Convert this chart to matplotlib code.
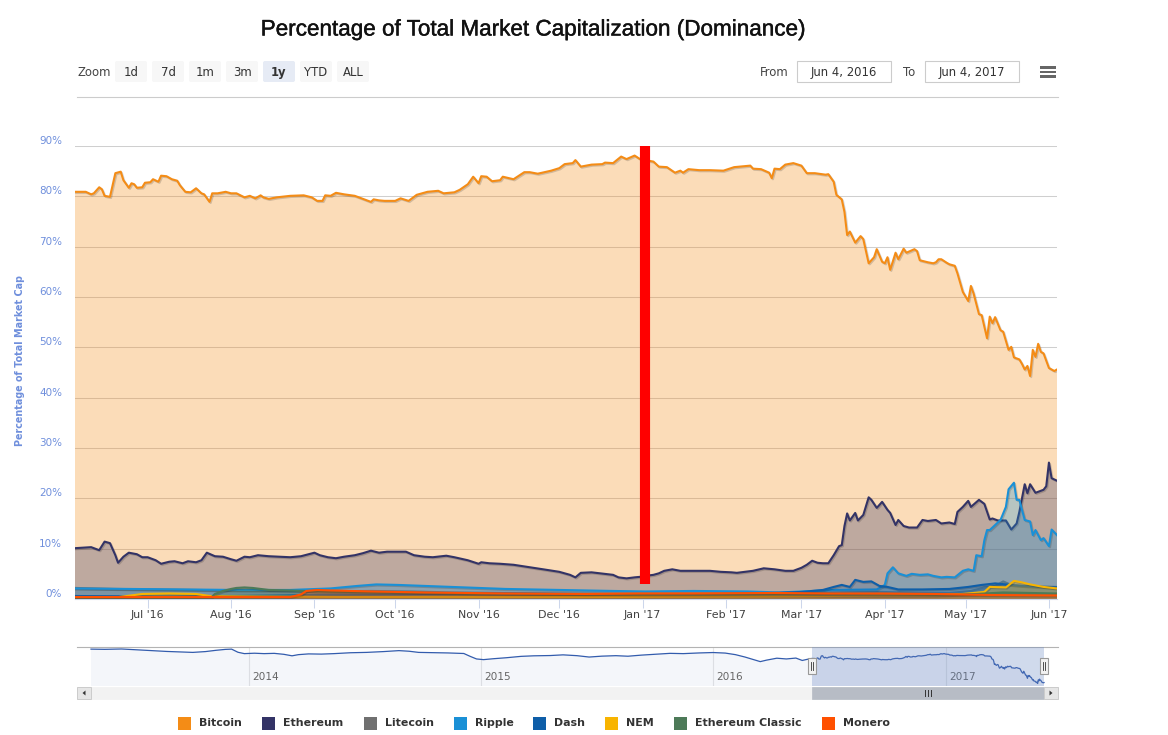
import numpy as np
import matplotlib
matplotlib.use("Agg")
import matplotlib.pyplot as plt
import matplotlib.dates as mdates
import matplotlib.transforms as mtransforms
import matplotlib.patheffects as pe
from matplotlib.patches import Rectangle, FancyBboxPatch, Polygon

# ---------------- data ----------------
TITLE = "Percentage of Total Market Capitalization (Dominance)"
Y_TITLE = "Percentage of Total Market Cap"
RANGE_START = "2016-06-04"
RANGE_END = "2017-06-04"
Y_TICKS = [0, 10, 20, 30, 40, 50, 60, 70, 80, 90]
ZOOM_BUTTONS = ["1d", "7d", "1m", "3m", "1y", "YTD", "ALL"]
ZOOM_SELECTED = "1y"
FROM_TEXT = "Jun 4, 2016"
TO_TEXT = "Jun 4, 2017"

SERIES_NAMES = ["Bitcoin", "Ethereum", "Litecoin", "Ripple", "Dash", "NEM",
                "Ethereum Classic", "Monero"]
SERIES_COLORS = ["#f48c16", "#333366", "#707070", "#1a90d6", "#0e5ea8",
                 "#f8b400", "#4d7a58", "#ff5000"]

# days since RANGE_START
BTC_DAYS = [0, 4, 6, 7, 9, 10, 11, 13, 15, 17, 18, 20, 21, 22, 23, 25, 26, 28, 29, 31,
            32, 34, 36, 38, 39, 41, 43, 45, 47, 48, 50, 51, 53, 56, 58, 60, 63, 65, 67, 69,
            70, 72, 75, 80, 85, 88, 90, 92, 93, 95, 97, 100, 104, 107, 110, 111, 113, 115, 119, 121,
            124, 127, 131, 135, 137, 141, 143, 146, 148, 150, 151, 153, 155, 158, 159, 163, 167, 169, 172, 177,
            180, 182, 185, 186, 188, 192, 196, 197, 200, 203, 205, 208, 210, 215, 217, 220, 223, 225, 226, 228,
            232, 236, 241, 245, 251, 252, 255, 258, 259, 260, 262, 264, 267, 270, 272, 275, 279, 280, 282, 283,
            285, 286, 287, 288, 290, 292, 293, 295, 297, 298, 300, 301, 302, 303, 305, 306, 308, 309, 312, 313,
            314, 317, 319, 320, 321, 322, 324, 325, 327, 328, 330, 332, 333, 334, 336, 337, 339, 340, 341, 342,
            344, 345, 347, 348, 349, 351, 352, 353, 354, 355, 356, 357, 358, 359, 360, 362, 364, 365]
BTC_VALS = [80.9, 80.9, 80.4, 80.6, 81.8, 81.4, 80.1, 79.9, 84.6, 84.9, 83.2, 81.7, 82.6, 82.4, 81.7, 81.8, 82.7, 82.8, 83.4, 82.9,
            84.1, 84.0, 83.4, 83.1, 82.2, 80.9, 80.8, 81.6, 80.6, 80.4, 78.9, 80.6, 80.6, 80.9, 80.6, 80.6, 79.8, 80.1, 79.6, 80.2,
            79.8, 79.5, 79.8, 80.1, 80.2, 79.8, 79.1, 79.1, 80.2, 80.1, 80.7, 80.4, 80.1, 79.5, 78.9, 79.4, 79.2, 79.1, 79.1, 79.6,
            79.1, 80.3, 80.9, 81.1, 80.6, 80.8, 81.3, 82.4, 83.9, 82.6, 84.0, 83.9, 83.0, 83.2, 83.9, 83.4, 84.8, 84.8, 84.5, 85.1,
            85.6, 86.4, 86.6, 87.2, 85.9, 86.3, 86.4, 86.7, 86.6, 87.9, 87.4, 88.1, 87.4, 86.9, 85.9, 85.8, 84.7, 85.1, 84.7, 85.4,
            85.2, 85.2, 85.1, 85.8, 86.1, 85.5, 85.4, 84.7, 83.6, 85.5, 85.4, 86.3, 86.6, 86.1, 84.6, 84.6, 84.3, 84.4, 82.9, 80.3,
            79.4, 76.9, 72.3, 73.0, 70.8, 72.1, 71.5, 66.7, 67.9, 69.5, 67.0, 66.7, 67.9, 65.4, 68.8, 67.5, 69.6, 68.8, 69.5, 69.1,
            67.3, 66.9, 66.7, 66.9, 67.5, 67.5, 66.8, 66.5, 66.2, 64.7, 61.0, 59.2, 62.2, 60.7, 56.6, 56.4, 51.8, 56.1, 54.8, 56.0,
            53.4, 53.1, 49.5, 50.1, 48.0, 47.6, 46.7, 45.6, 46.3, 44.3, 49.5, 48.1, 50.7, 49.1, 48.8, 45.9, 45.3, 45.6]

ETH_DAYS = [0, 6, 9, 11, 13, 15, 16, 18, 20, 23, 25, 27, 30, 32, 35, 37, 40, 42, 45, 47,
            49, 52, 55, 58, 60, 63, 65, 68, 72, 76, 80, 84, 89, 91, 94, 97, 100, 104, 107, 110,
            113, 116, 118, 123, 126, 130, 133, 138, 141, 146, 150, 151, 154, 158, 163, 168, 174, 180, 184, 186,
            188, 192, 197, 200, 202, 205, 208, 210, 212, 215, 217, 219, 222, 225, 229, 233, 236, 240, 244, 246,
            249, 252, 256, 260, 264, 267, 270, 272, 274, 276, 278, 280, 282, 284, 285, 286, 287, 288, 290, 291,
            293, 295, 296, 298, 300, 302, 303, 305, 306, 308, 310, 313, 315, 317, 320, 322, 325, 327, 328, 330,
            332, 333, 336, 338, 340, 341, 343, 346, 348, 350, 351, 353, 354, 355, 357, 360, 361, 362, 363, 365]
ETH_VALS = [10.1, 10.3, 9.7, 11.4, 11.1, 8.7, 7.2, 8.4, 9.2, 8.9, 8.3, 8.3, 7.7, 7.0, 7.4, 7.5, 7.1, 7.5, 7.3, 7.7,
            9.2, 8.5, 8.4, 7.9, 7.6, 8.4, 8.3, 8.7, 8.5, 8.4, 8.3, 8.5, 9.2, 8.7, 8.3, 8.1, 8.4, 8.7, 9.1, 9.6,
            9.2, 9.4, 9.4, 9.4, 8.7, 8.4, 8.3, 8.6, 8.3, 7.7, 7.0, 7.3, 7.1, 7.0, 6.8, 6.4, 5.9, 5.4, 4.8, 4.3,
            5.2, 5.3, 5.0, 4.8, 4.3, 4.1, 4.3, 4.4, 4.6, 4.8, 5.1, 5.6, 5.9, 5.6, 5.6, 5.6, 5.6, 5.4, 5.3, 5.2,
            5.4, 5.6, 6.1, 5.9, 5.6, 5.6, 6.2, 6.8, 7.6, 7.2, 7.1, 7.1, 8.7, 10.5, 10.7, 14.5, 17.0, 15.6, 17.1, 15.6,
            16.7, 20.2, 19.7, 18.1, 19.3, 17.7, 17.1, 14.7, 15.7, 14.5, 14.2, 14.2, 15.7, 15.5, 15.7, 15.0, 15.2, 14.9, 17.3, 18.3,
            19.5, 18.3, 19.7, 18.9, 15.8, 16.0, 15.6, 15.6, 13.8, 15.0, 17.3, 22.8, 21.0, 22.8, 21.1, 21.7, 22.4, 27.1, 24.0, 23.5]

LTC_DAYS = [0, 15, 30, 45, 60, 75, 90, 110, 125, 140, 160, 180, 200, 215, 240, 260, 275, 290,
            300, 315, 325, 333, 338, 342, 345, 348, 352, 358, 365]
LTC_VALS = [2.2, 2.0, 1.9, 1.8, 1.7, 1.6, 1.5, 1.6, 1.5, 1.3, 1.2, 1.1, 1.0, 1.0, 1.0, 1.0, 1.1, 1.3,
            1.4, 1.2, 1.2, 1.6, 2.3, 2.6, 3.5, 2.8, 2.6, 2.5, 2.4]

XRP_DAYS = [0, 20, 40, 60, 80, 95, 105, 112, 120, 130, 145, 160, 180, 200, 212, 230, 250, 262,
            282, 298, 301, 302, 304, 306, 309, 311, 314, 317, 319, 322, 324, 327, 330, 332, 334, 335,
            337, 338, 339, 340, 342, 344, 346, 347, 349, 350, 351, 353, 355, 356, 357, 359, 360, 362, 363, 365]
XRP_VALS = [2.1, 2.0, 1.9, 1.8, 1.8, 2.1, 2.6, 2.9, 2.8, 2.6, 2.3, 2.0, 1.8, 1.6, 1.5, 1.6, 1.5, 1.3,
            1.8, 1.9, 2.8, 5.1, 6.3, 5.1, 4.6, 5.0, 4.8, 4.9, 4.6, 4.3, 4.4, 4.3, 5.6, 5.9, 5.6, 8.7,
            8.5, 11.7, 13.7, 13.7, 14.7, 15.7, 18.3, 21.8, 23.1, 19.7, 19.7, 15.7, 15.4, 12.7, 13.7, 11.7, 12.1, 10.5, 13.8, 12.7]

DASH_DAYS = [0, 30, 60, 90, 120, 150, 180, 210, 240, 260, 270, 278, 282, 285, 288, 290, 293, 296,
             299, 302, 306, 315, 325, 332, 337, 342, 350, 358, 365]
DASH_VALS = [0.6, 0.5, 0.6, 0.8, 0.9, 1.1, 1.0, 0.9, 1.0, 1.2, 1.4, 1.8, 2.4, 2.8, 2.4, 3.8, 3.4, 3.5,
             2.6, 2.4, 1.9, 1.9, 2.0, 2.4, 2.8, 3.1, 2.7, 2.4, 2.3]

NEM_DAYS = [0, 15, 25, 35, 45, 50, 70, 100, 150, 200, 250, 280, 300, 320, 330, 338, 340, 346,
            349, 352, 355, 360, 365]
NEM_VALS = [0.2, 0.3, 1.0, 1.1, 1.0, 0.6, 0.5, 0.4, 0.4, 0.4, 0.5, 0.6, 0.7, 0.8, 1.0, 1.4, 2.4, 2.3,
            3.6, 3.3, 2.9, 2.4, 2.1]

ETC_DAYS = [0, 50, 52, 55, 58, 60, 63, 66, 72, 80, 90, 110, 130, 150, 180, 210, 240, 270, 300,
            320, 335, 345, 355, 365]
ETC_VALS = [0.0, 0.0, 1.0, 1.6, 2.0, 2.2, 2.3, 2.2, 1.8, 1.7, 1.5, 1.3, 1.2, 1.0, 0.9, 0.8, 0.8, 0.8, 0.7,
            0.7, 1.0, 1.3, 1.2, 1.1]

XMR_DAYS = [0, 30, 60, 80, 84, 86, 90, 95, 110, 130, 160, 190, 210, 230, 260, 280, 300, 320, 340, 365]
XMR_VALS = [0.4, 0.4, 0.4, 0.4, 0.9, 1.6, 1.8, 1.7, 1.5, 1.3, 1.1, 1.0, 1.1, 1.1, 1.2, 1.1, 1.1, 1.0, 0.8, 0.7]

# red marker drawn on the chart (annotation)
RED_DAY = 212
RED_LOW = 2.9
RED_HIGH = 90

# navigator: bitcoin dominance history before the selected range
NAV_HIST_DATES = ["2013-04-28", "2013-05-20", "2013-06-15", "2013-07-10", "2013-08-05", "2013-08-25",
                  "2013-09-15", "2013-10-05", "2013-10-25", "2013-11-10", "2013-11-25", "2013-12-05",
                  "2013-12-15", "2013-12-25", "2014-01-10", "2014-01-25", "2014-02-10", "2014-02-25",
                  "2014-03-10", "2014-03-20", "2014-04-05", "2014-04-25", "2014-05-15", "2014-06-10",
                  "2014-07-05", "2014-08-01", "2014-08-25", "2014-09-10", "2014-09-25", "2014-10-15",
                  "2014-11-10", "2014-11-25", "2014-12-05", "2014-12-15", "2014-12-25", "2015-01-05",
                  "2015-01-20", "2015-02-10", "2015-03-05", "2015-03-25", "2015-04-20", "2015-05-10",
                  "2015-06-01", "2015-06-20", "2015-07-10", "2015-08-01", "2015-08-20", "2015-09-10",
                  "2015-10-01", "2015-10-25", "2015-11-15", "2015-12-10", "2016-01-01", "2016-01-20",
                  "2016-02-05", "2016-02-20", "2016-03-05", "2016-03-15", "2016-03-25", "2016-04-10",
                  "2016-04-25", "2016-05-10", "2016-05-20", "2016-06-01"]
NAV_HIST_BTC = [94.6, 94.3, 94.8, 93.5, 92.0, 91.2, 90.5, 89.8, 91.0, 92.8, 94.2, 94.6,
                90.0, 88.0, 88.6, 88.0, 88.4, 87.0, 84.8, 86.5, 87.6, 87.3, 88.0, 89.3,
                89.8, 91.0, 92.4, 91.5, 89.8, 89.5, 89.0, 88.5, 88.2, 84.0, 80.2, 79.2,
                80.5, 82.0, 84.0, 84.8, 85.2, 86.2, 85.0, 83.0, 84.3, 85.0, 84.2, 85.8,
                87.0, 88.4, 88.0, 89.0, 89.6, 88.8, 86.5, 83.0, 79.0, 76.3, 78.5, 81.3,
                80.2, 81.5, 78.0, 80.5]
NAV_YEARS = [2014, 2015, 2016, 2017]

SERIES_DAYS = [BTC_DAYS, ETH_DAYS, LTC_DAYS, XRP_DAYS, DASH_DAYS, NEM_DAYS, ETC_DAYS, XMR_DAYS]
SERIES_VALS = [BTC_VALS, ETH_VALS, LTC_VALS, XRP_VALS, DASH_VALS, NEM_VALS, ETC_VALS, XMR_VALS]

# ---------------- figure ----------------
W, H = 1168, 735
fig = plt.figure(figsize=(W / 100, H / 100), dpi=100, facecolor="white")
UI_FONT = "DejaVu Sans"


def fbox(l, t, r, b):
    return [l / W, 1 - b / H, (r - l) / W, (b - t) / H]


start = np.datetime64(RANGE_START)
end = np.datetime64(RANGE_END)


def dates_of(days):
    return start + np.array(days, dtype="timedelta64[D]")


# overlay axes in pixel coordinates for widgets
ui = fig.add_axes([0, 0, 1, 1])
ui.set_xlim(0, W)
ui.set_ylim(H, 0)
ui.axis("off")
ui.set_zorder(10)

# ---- main chart ----
ax = fig.add_axes(fbox(75, 146, 1057, 599))
ax.set_facecolor("white")
shadow = [pe.SimpleLineShadow(offset=(0.8, -0.8), shadow_color="black", alpha=0.16), pe.Normal()]
for i, (days, vals, color) in enumerate(zip(SERIES_DAYS, SERIES_VALS, SERIES_COLORS)):
    d = dates_of(days)
    ax.fill_between(d, vals, 0, facecolor=color, alpha=0.3, lw=0, zorder=2 + 2 * i)
    ax.plot(d, vals, color=color, lw=1.5, zorder=3 + 2 * i, path_effects=shadow,
            solid_joinstyle="round")

rd = dates_of([RED_DAY])[0]
ax.plot([rd, rd], [RED_LOW, RED_HIGH], color="#ff0000", lw=7.3, solid_capstyle="butt",
        zorder=40, clip_on=False)

ax.set_xlim(start, end)
ax.set_ylim(0, 90)
for s in ["top", "right", "left"]:
    ax.spines[s].set_visible(False)
ax.spines["bottom"].set_color("#ccd6eb")
ax.spines["bottom"].set_linewidth(0.8)
ax.spines["bottom"].set_zorder(30)
ax.xaxis.set_major_locator(mdates.MonthLocator())
ax.xaxis.set_major_formatter(mdates.DateFormatter("%b '%y"))
ax.tick_params(axis="x", direction="out", length=6.5, width=0.75, color="#ccd6eb", pad=1.5,
               labelsize=7.9, labelcolor="#404040")
for lbl in ax.get_xticklabels():
    lbl.set_family(UI_FONT)
ax.set_yticks(Y_TICKS)
ax.set_yticklabels([])
ax.tick_params(axis="y", length=0)
ax.yaxis.grid(True, color="#cfcfcf", lw=0.75)
ax.set_axisbelow(True)

ytrans = mtransforms.offset_copy(ax.get_yaxis_transform(), fig=fig, x=-13, y=5, units="dots")
for v in Y_TICKS:
    ax.text(0, v, f"{v}%", transform=ytrans, ha="right", va="center", color="#6f8fdc",
            fontsize=7.5, family=UI_FONT, clip_on=False)

fig.text(20 / W, 1 - 361 / H, Y_TITLE, rotation=90, ha="center", va="center",
         color="#6f8fdc", fontsize=6.9, fontweight="bold", family=UI_FONT)

fig.text(534 / W, 1 - 30 / H, TITLE, ha="center", va="center", fontsize=16.2,
         family="Liberation Sans", color="#111111",
         path_effects=[pe.withStroke(linewidth=0.3, foreground="#111111")])

# ---- top widgets ----
ui.text(77, 72, "Zoom", ha="left", va="center", fontsize=8.4, color="#444444", family=UI_FONT)
for k, b in enumerate(ZOOM_BUTTONS):
    x0 = 115 + 37 * k
    sel = b == ZOOM_SELECTED
    ui.add_patch(FancyBboxPatch((x0, 61), 32, 21, boxstyle="round,pad=0,rounding_size=2",
                                fc="#e6ebf5" if sel else "#f7f7f7", ec="none"))
    ui.text(x0 + 16, 72, b, ha="center", va="center", fontsize=8.4, color="#333333",
            family=UI_FONT, fontweight="bold" if sel else "normal")

ui.text(760, 72, "From", ha="left", va="center", fontsize=8.4, color="#444444", family=UI_FONT)
ui.text(903, 72, "To", ha="left", va="center", fontsize=8.4, color="#444444", family=UI_FONT)
for x0, txt in [(797, FROM_TEXT), (925, TO_TEXT)]:
    ui.add_patch(Rectangle((x0, 61), 94, 21, fc="white", ec="#cccccc", lw=0.8))
    ui.text(x0 + 47, 72, txt, ha="center", va="center", fontsize=8.4, color="#333333",
            family=UI_FONT)
for yb in [67.5, 72, 76.5]:
    ui.add_patch(Rectangle((1040, yb - 1.3), 16, 2.6, fc="#666666", ec="none"))
ui.plot([77, 1058], [97, 97], color="#cccccc", lw=0.8)

# ---- navigator ----
nav = fig.add_axes(fbox(77, 647, 1058, 686))
nav.set_facecolor("white")
nav_dates = np.concatenate([np.array(NAV_HIST_DATES, dtype="datetime64[D]"), dates_of(BTC_DAYS)])
nav_vals = np.concatenate([np.array(NAV_HIST_BTC), np.array(BTC_VALS)])
nav.fill_between(nav_dates, nav_vals, 0, facecolor="#335cad", alpha=0.05, lw=0)
nav.plot(nav_dates, nav_vals, color="#335cad", lw=0.9)
t0 = mdates.date2num(nav_dates[0])
t1 = mdates.date2num(end)
ppd = (1044 - 91) / (t1 - t0)
nav.set_xlim(t0 - (91 - 77) / ppd, t1 + (1058 - 1044) / ppd)
vmin, vmax = nav_vals.min(), nav_vals.max()
nav.set_ylim(vmin - 3.7, vmax + 2.9)
nav.set_xticks([])
nav.set_yticks([])
for s in ["left", "right", "bottom"]:
    nav.spines[s].set_visible(False)
nav.spines["top"].set_color("#b3b3b3")
nav.spines["top"].set_linewidth(0.8)
ylab = mtransforms.offset_copy(nav.get_xaxis_transform(), fig=fig, x=3, y=0, units="dots")
for yr in NAV_YEARS:
    yd = np.datetime64(f"{yr}-01-01")
    nav.axvline(yd, color="#e6e6e6", lw=0.8, zorder=0.5)
    nav.text(yd, 0.23, str(yr), transform=ylab, ha="left", va="center", fontsize=7.6,
             color="#666666", family=UI_FONT)
nav.axvspan(start, end, facecolor=(102 / 255, 133 / 255, 194 / 255, 0.3), lw=0, zorder=3)

sx0 = nav.transData.transform((mdates.date2num(start), 0))[0]
sx1 = nav.transData.transform((mdates.date2num(end), 0))[0]

# scrollbar
ui.add_patch(Rectangle((77, 687), 981, 12, fc="#f2f2f2", ec="#f2f2f2", lw=0.5))
ui.add_patch(Rectangle((sx0, 687), sx1 - sx0, 12, fc="#b7bcc5", ec="#b7bcc5", lw=0.5))
for xr in [-3, 0, 3]:
    ui.plot([(sx0 + sx1) / 2 + xr] * 2, [690, 696], color="#333333", lw=0.7)
ui.add_patch(Rectangle((77, 687), 14, 12, fc="#e6e6e6", ec="#cccccc", lw=0.7))
ui.add_patch(Rectangle((1044, 687), 14, 12, fc="#e6e6e6", ec="#cccccc", lw=0.7))
ui.add_patch(Polygon([[82.5, 693], [85.5, 690.5], [85.5, 695.5]], fc="#333333", ec="none"))
ui.add_patch(Polygon([[1052.5, 693], [1049.5, 690.5], [1049.5, 695.5]], fc="#333333", ec="none"))

# navigator handles
for hx in [sx0, sx1]:
    ui.add_patch(Rectangle((hx - 4, 658), 8, 16, fc="#f2f2f2", ec="#999999", lw=0.8))
    for xr in [-1.2, 1.2]:
        ui.plot([hx + xr] * 2, [662, 670], color="#333333", lw=0.6)

# ---- legend ----
renderer = fig.canvas.get_renderer()
sq, gap, dist = 13, 8, 20
widths = []
texts = []
for name in SERIES_NAMES:
    t = ui.text(0, 723, name, ha="left", va="center", fontsize=7.9, fontweight="bold",
                color="#333333", family=UI_FONT)
    texts.append(t)
    widths.append(t.get_window_extent(renderer).width)
total = sum(sq + gap + w for w in widths) + dist * (len(widths) - 1)
x = 534 - total / 2
for t, w, c in zip(texts, widths, SERIES_COLORS):
    ui.add_patch(Rectangle((x, 723 - sq / 2), sq, sq, fc=c, ec="none"))
    t.set_x(x + sq + gap)
    x += sq + gap + w + dist

fig.savefig("out.png", dpi=100, facecolor="white")
